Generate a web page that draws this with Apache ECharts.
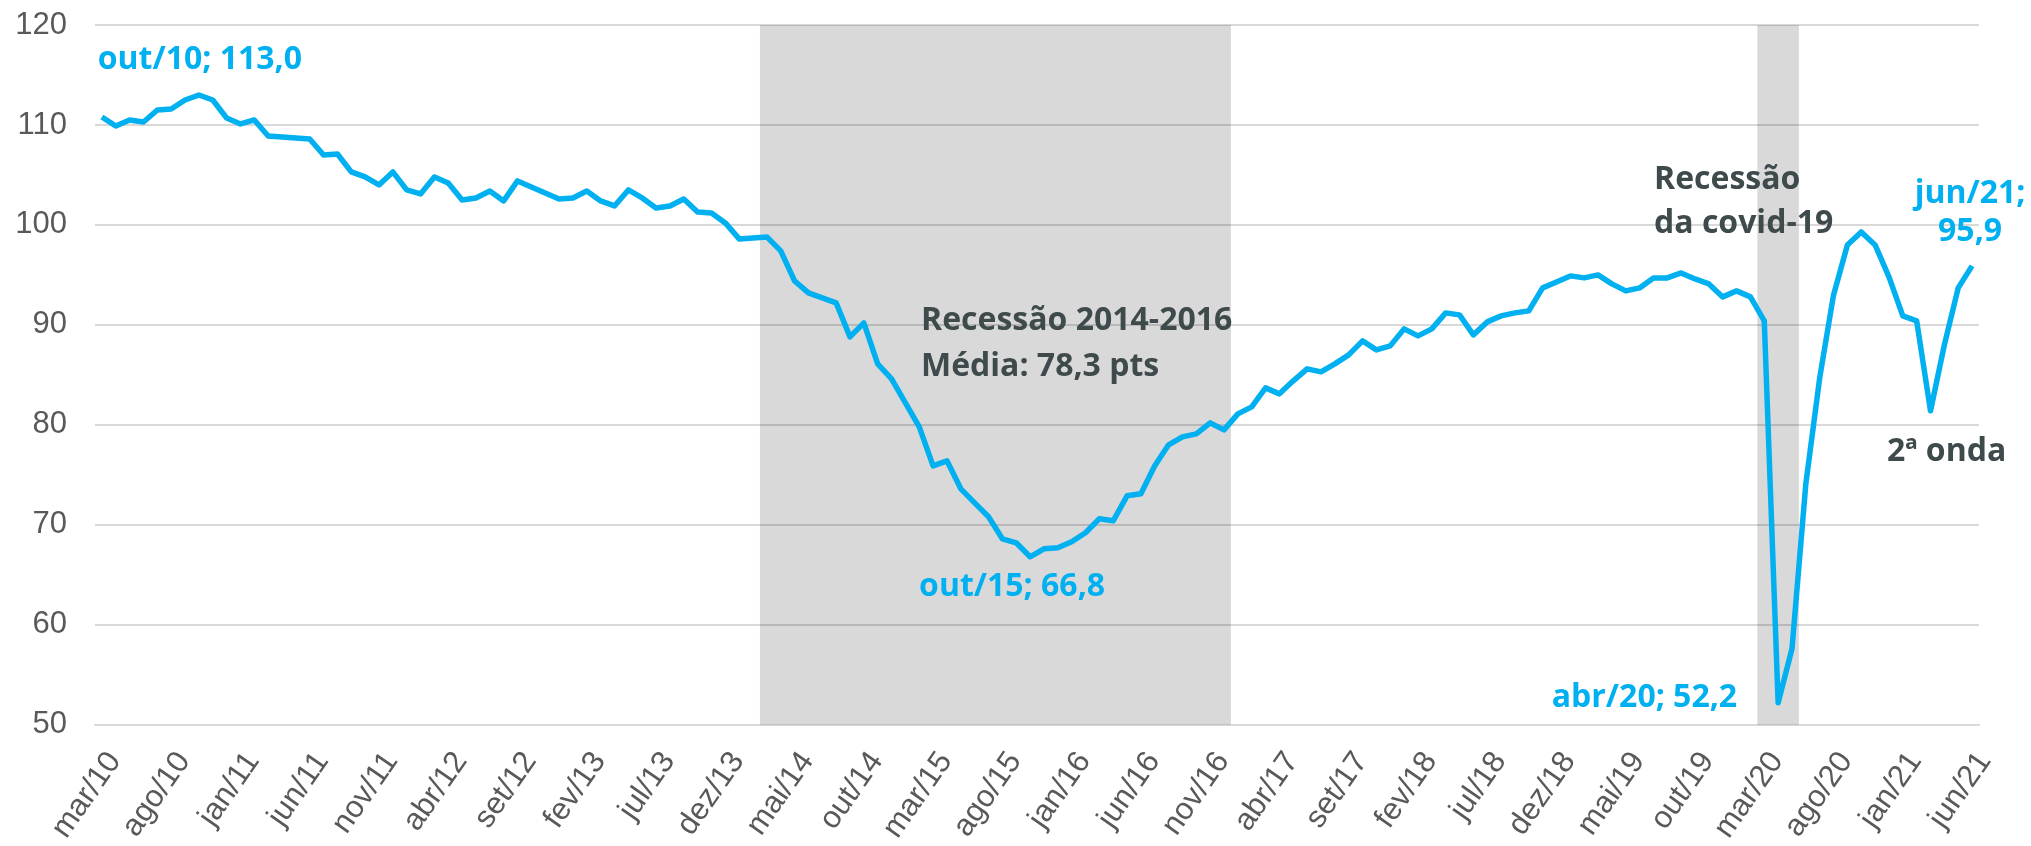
<!DOCTYPE html>
<html>
<head>
<meta charset="utf-8">
<script src="https://cdn.jsdelivr.net/npm/echarts@6/dist/echarts.min.js"></script>
<style>
  html, body { margin: 0; padding: 0; background: #fff; }
  #chart { width: 2031px; height: 846px; }
</style>
</head>
<body>
<div id="chart"></div>
<script>
// meses de mar/10 a jun/21
const MESES = ['jan', 'fev', 'mar', 'abr', 'mai', 'jun', 'jul', 'ago', 'set', 'out', 'nov', 'dez'];
const categorias = [];
for (let a = 2010, m = 2; a < 2021 || (a === 2021 && m <= 5); m++) {
  if (m === 12) { m = 0; a++; }
  categorias.push(MESES[m] + '/' + String(a).slice(2));
}

// índice (pts)
const indice = [
  110.8, 109.9, 110.5, 110.3, 111.5, 111.6, 112.5, 113.0, 112.5, 110.7,
  110.1, 110.5, 108.9, 108.8, 108.7, 108.6, 107.0, 107.1, 105.3, 104.8,
  104.0, 105.3, 103.5, 103.1, 104.8, 104.2, 102.5, 102.7, 103.4, 102.4,
  104.4, 103.8, 103.2, 102.6, 102.7, 103.4, 102.4, 101.9, 103.5, 102.7,
  101.7, 101.9, 102.6, 101.3, 101.2, 100.2, 98.6, 98.7, 98.8, 97.4,
  94.4, 93.2, 92.7, 92.2, 88.8, 90.2, 86.1, 84.6, 82.2, 79.8,
  75.9, 76.4, 73.6, 72.2, 70.8, 68.6, 68.2, 66.8, 67.6, 67.7,
  68.3, 69.2, 70.6, 70.4, 72.9, 73.1, 75.9, 78.0, 78.8, 79.1,
  80.2, 79.5, 81.1, 81.8, 83.7, 83.1, 84.4, 85.6, 85.3, 86.1,
  87.0, 88.4, 87.5, 87.9, 89.6, 88.9, 89.6, 91.2, 91.0, 89.0,
  90.3, 90.9, 91.2, 91.4, 93.7, 94.3, 94.9, 94.7, 95.0, 94.1,
  93.4, 93.7, 94.7, 94.7, 95.2, 94.6, 94.1, 92.8, 93.4, 92.8,
  90.4, 52.2, 57.6, 74.1, 84.7, 93.0, 98.0, 99.3, 98.0, 94.8,
  90.9, 90.4, 81.4, 88.0, 93.7, 95.9
];

// períodos de recessão (meses inteiros sombreados)
const recessoes = [['mar/14', 'dez/16'], ['mar/20', 'mai/20']];

// pontos destacados
const destaques = ['out/10', 'out/15', 'abr/20', 'jun/21'];

const AZUL = '#00b0f0';
const CINZA_TXT = '#3f4a4c';
const fmt = v => v.toFixed(1).replace('.', ',');

const chart = echarts.init(document.getElementById('chart'));

const labelDestaque = {
  'out/10': { offset: [1, -35], align: 'center' },
  'out/15': { offset: [-18, 30], align: 'center' },
  'abr/20': { offset: [-41, -5], align: 'right' },
  'jun/21': { offset: [-2, -53], align: 'center', lineHeight: 38, sep: ';\n' }
};

const markPts = destaques.map(c => {
  const i = categorias.indexOf(c);
  const cfg = labelDestaque[c];
  return {
    coord: [c, indice[i]],
    label: {
      show: true,
      position: 'inside',
      offset: cfg.offset,
      align: cfg.align,
      verticalAlign: 'middle',
      lineHeight: cfg.lineHeight || 36,
      formatter: c + (cfg.sep || '; ') + fmt(indice[i])
    }
  };
});

const areas = recessoes.map(([a, b]) => [
  { xAxis: categorias.indexOf(a) - 0.5 },
  { xAxis: categorias.indexOf(b) + 0.5 }
]);

const txt = (x, y, s) => ({
  type: 'text', x, y, z: 10,
  style: {
    text: s, fill: CINZA_TXT,
    font: 'bold 32px "Open Sans", sans-serif',
    verticalAlign: 'middle'
  }
});

chart.setOption({
  animation: false,
  grid: { left: 95, right: 52, top: 25, bottom: 116 },
  xAxis: [{
    type: 'category',
    data: categorias,
    boundaryGap: true,
    axisLine: { lineStyle: { color: '#d9d9d9', width: 2 } },
    axisTick: { interval: 4, length: 9, lineStyle: { color: '#d9d9d9', width: 2 } },
    axisLabel: {
      interval: 4,
      rotate: 55,
      margin: 22,
      verticalAlign: 'top',
      color: '#595959',
      fontFamily: '"Liberation Sans", Arial, sans-serif',
      fontSize: 31
    },
    splitLine: { show: false }
  }, {
    type: 'value',
    show: false,
    min: -0.5,
    max: categorias.length - 0.5
  }],
  yAxis: {
    type: 'value',
    min: 50,
    max: 120,
    interval: 10,
    axisLine: { show: false },
    axisTick: { show: false },
    axisLabel: {
      margin: 28,
      color: '#595959',
      fontFamily: '"Liberation Sans", Arial, sans-serif',
      fontSize: 31
    },
    splitLine: { lineStyle: { color: '#d9d9d9', width: 2 } }
  },
  series: [{
    type: 'line',
    xAxisIndex: 1,
    data: [],
    silent: true,
    markArea: {
      silent: true,
      itemStyle: { color: 'rgba(0,0,0,0.15)' },
      data: areas
    }
  }, {
    type: 'line',
    name: 'Índice',
    z: 5,
    data: indice,
    showSymbol: false,
    lineStyle: { color: AZUL, width: 5.5, join: 'round' },
    markPoint: {
      symbol: 'circle',
      symbolSize: 1,
      itemStyle: { color: 'rgba(0,0,0,0)' },
      label: {
        color: AZUL,
        fontFamily: '"Open Sans", sans-serif',
        fontWeight: 'bold',
        fontSize: 32
      },
      data: markPts
    }
  }],
  graphic: [
    txt(921, 321, 'Recessão 2014-2016'),
    txt(921, 367, 'Média: 78,3 pts'),
    txt(1654, 180, 'Recessão'),
    txt(1654, 224, 'da covid-19'),
    txt(1887, 452, '2ª onda')
  ]
});
</script>
</body>
</html>
